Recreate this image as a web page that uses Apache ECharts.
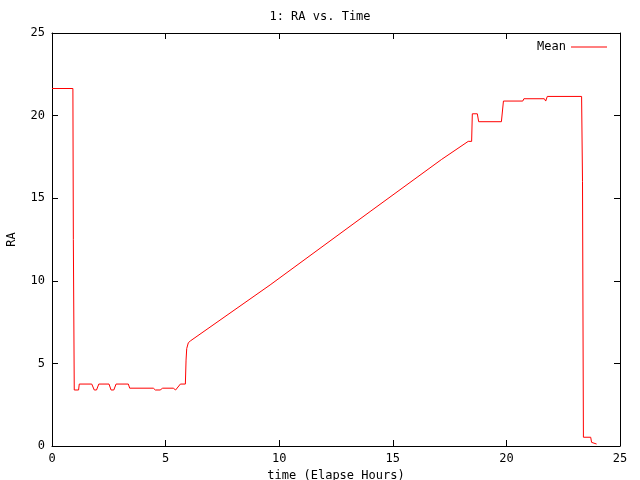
<!DOCTYPE html>
<html lang="en">
<head>
    <meta charset="UTF-8">
    <title>1: RA vs. Time</title>
    <script src="https://cdn.jsdelivr.net/npm/echarts@6/dist/echarts.min.js"></script>
    <style>
        html, body { margin: 0; padding: 0; background: #fff; }
        #chart { width: 640px; height: 480px; }
    </style>
</head>
<body>
    <div id="chart"></div>
    <script>
        // elapsed hours and mean RA
        const hours = [
            0, 0.92, 0.94, 0.98, 1.17, 1.2, 1.75, 1.86, 1.96, 2.06,
            2.51, 2.6, 2.72, 2.82, 3.36, 3.42, 4.46, 4.55, 4.76, 4.87,
            5.34, 5.44, 5.52, 5.65, 5.87, 5.9, 5.93, 6.0, 6.1, 9.6,
            14.0, 17.15, 18.32, 18.47, 18.5, 18.72, 18.78, 19.78, 19.87, 20.72,
            20.77, 21.67, 21.73, 21.8, 23.31, 23.35, 23.39, 23.71, 23.75, 23.8,
            23.97
        ];
        const meanRA = [
            21.64, 21.64, 12.5, 3.39, 3.39, 3.75, 3.75, 3.39, 3.39, 3.75,
            3.75, 3.39, 3.39, 3.75, 3.75, 3.5, 3.5, 3.39, 3.39, 3.5,
            3.5, 3.39, 3.42, 3.75, 3.75, 5.2, 5.9, 6.25, 6.37, 9.75,
            14.19, 17.35, 18.44, 18.44, 20.11, 20.11, 19.63, 19.63, 20.88, 20.88,
            21.02, 21.02, 20.88, 21.16, 21.16, 16.0, 0.53, 0.53, 0.22, 0.12,
            0.12
        ];
        const tickValues = [0, 5, 10, 15, 20, 25];

        const font = 'DejaVu Sans Mono';
        const txt = { fontFamily: font, fontSize: 12, color: '#000' };

        const frameAxis = (extra) => Object.assign({
            type: 'value',
            min: tickValues[0],
            max: tickValues[tickValues.length - 1],
            interval: tickValues[1] - tickValues[0],
            axisLine: { show: true, onZero: false, lineStyle: { color: '#000', width: 1 } },
            axisTick: { show: true, inside: true, length: 6, lineStyle: { color: '#000' } },
            splitLine: { show: false },
            axisLabel: Object.assign({ show: true, margin: 7 }, txt)
        }, extra);

        const chart = echarts.init(document.getElementById('chart'));
        chart.setOption({
            animation: false,
            backgroundColor: '#fff',
            title: {
                text: '1: RA vs. Time',
                left: 'center',
                top: 6,
                textStyle: Object.assign({ fontWeight: 'normal' }, txt)
            },
            legend: {
                right: 28,
                top: 36,
                itemWidth: 36,
                itemHeight: 1,
                itemGap: 6,
                align: 'right',
                icon: 'rect',
                textStyle: txt,
                data: ['Mean']
            },
            grid: { left: 52, right: 20, top: 33, bottom: 34, containLabel: false, outerBoundsMode: 'none' },
            xAxis: [
                frameAxis({
                    position: 'bottom',
                    name: 'time (Elapse Hours)',
                    nameLocation: 'middle',
                    nameGap: 20,
                    nameTextStyle: txt
                }),
                frameAxis({ position: 'top', axisLabel: { show: false } })
            ],
            yAxis: [
                frameAxis({
                    position: 'left',
                    name: 'RA',
                    nameLocation: 'middle',
                    nameGap: 34,
                    nameRotate: 90,
                    nameTextStyle: txt
                }),
                frameAxis({ position: 'right', axisLabel: { show: false } })
            ],
            series: [
                {
                    name: 'Mean',
                    type: 'line',
                    xAxisIndex: 0,
                    yAxisIndex: 0,
                    showSymbol: false,
                    symbol: 'none',
                    color: '#ff0000',
                    lineStyle: { color: '#ff0000', width: 1 },
                    data: hours.map((h, i) => [h, meanRA[i]])
                }
            ]
        });
    </script>
</body>
</html>
